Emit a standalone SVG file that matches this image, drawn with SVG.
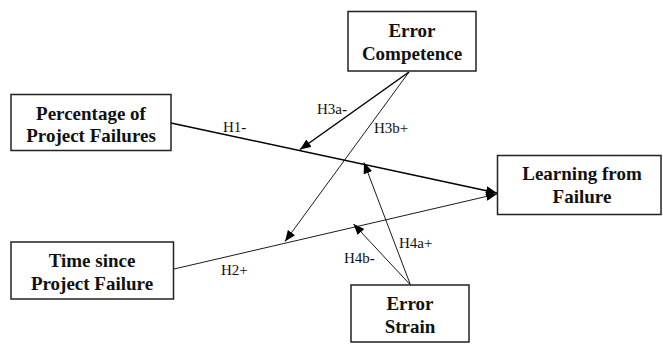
<svg xmlns="http://www.w3.org/2000/svg" width="663" height="344" viewBox="0 0 663 344">
<defs>
<style>
.box{fill:#fff;stroke:#222;stroke-width:1.5}
.nt{font-family:"Liberation Serif","Times New Roman",serif;font-weight:bold;font-size:19px;fill:#111;text-anchor:middle}
.lb{font-family:"Liberation Serif","Times New Roman",serif;font-size:15px;fill:#111}
.thick{stroke:#000;stroke-width:1.5;fill:none}
.thin{stroke:#000;stroke-width:0.9;fill:none}
</style>
<marker id="ah" markerUnits="userSpaceOnUse" markerWidth="11" markerHeight="9" refX="11" refY="4.5" orient="auto">
<path d="M0,0 L11,4.5 L0,9 z" fill="#000"/>
</marker>
</defs>
<rect width="663" height="344" fill="#fff"/>
<g id="connectors">
<line class="thick" x1="171" y1="123" x2="497" y2="193" marker-end="url(#ah)"/>
<line class="thin" x1="174" y1="269" x2="497" y2="194" marker-end="url(#ah)"/>
<line class="thick" x1="409" y1="72" x2="300" y2="149.5" marker-end="url(#ah)"/>
<line class="thin" x1="409" y1="72" x2="285" y2="241.5" marker-end="url(#ah)"/>
<line class="thin" x1="410.5" y1="285" x2="364" y2="162.5" marker-end="url(#ah)"/>
<line class="thin" x1="410.5" y1="285" x2="353.5" y2="224" marker-end="url(#ah)"/>
<text class="lb" x="223" y="132">H1<tspan font-weight="bold">-</tspan></text>
<text class="lb" x="317" y="114">H3a<tspan font-weight="bold">-</tspan></text>
<text class="lb" x="374" y="133">H3b+</text>
<text class="lb" x="221" y="275">H2+</text>
<text class="lb" x="344" y="263">H4b<tspan font-weight="bold">-</tspan></text>
<text class="lb" x="399" y="248">H4a+</text>
</g>
<g id="error-competence">
<rect class="box" x="348" y="11.5" width="128" height="59.5"/>
<text class="nt" x="412" y="37">Error</text>
<text class="nt" x="412" y="60">Competence</text>
</g>
<g id="percentage-failures">
<rect class="box" x="11" y="94.5" width="160" height="56"/>
<text class="nt" x="91" y="119.5">Percentage of</text>
<text class="nt" x="91" y="142">Project Failures</text>
</g>
<g id="learning-from-failure">
<rect class="box" x="497.5" y="155.5" width="163.5" height="59"/>
<text class="nt" x="582" y="179.5">Learning from</text>
<text class="nt" x="582" y="202.5">Failure</text>
</g>
<g id="time-since">
<rect class="box" x="11" y="242" width="162.5" height="57"/>
<text class="nt" x="92" y="267">Time since</text>
<text class="nt" x="92" y="289.5">Project Failure</text>
</g>
<g id="error-strain">
<rect class="box" x="351" y="285" width="118" height="57"/>
<text class="nt" x="410" y="310">Error</text>
<text class="nt" x="410" y="333">Strain</text>
</g>
</svg>
